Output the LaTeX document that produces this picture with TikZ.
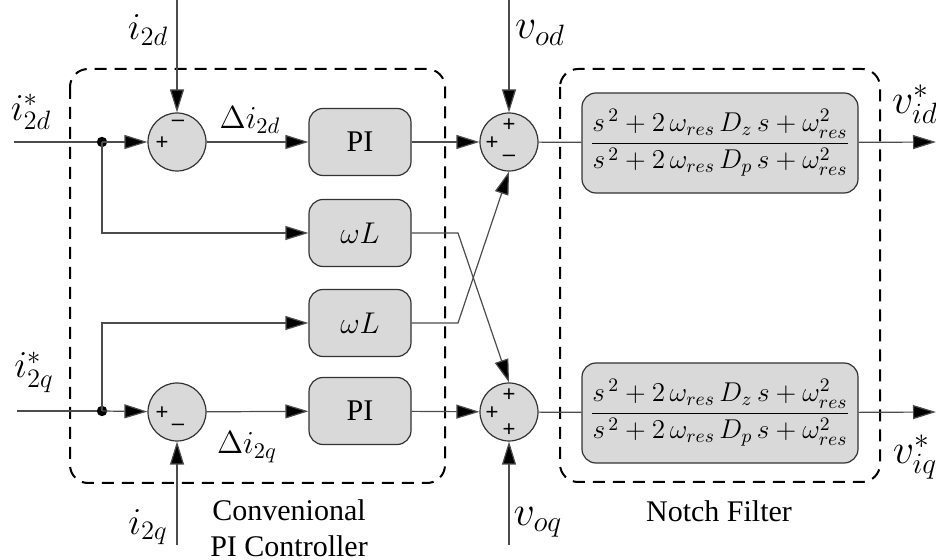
\RequirePackage{fix-cm}
\documentclass[tikz,border=0pt]{standalone}
\usepackage{fontspec}
\setmainfont{Liberation Serif}
\newfontfamily\signfont{Liberation Sans}
\usetikzlibrary{arrows.meta}
\begin{document}
\begin{tikzpicture}[x=0.5pt,y=-0.5pt,
  wire/.style={draw=black!70, line width=0.6pt},
  arr/.style={wire,-{Triangle[length=11.5pt,width=7pt,fill=black]}},
  blk/.style={draw=black!80, fill=black!15, rounded corners=7pt, line width=0.6pt, minimum width=51pt, minimum height=33.5pt, inner sep=0pt, font=\fontsize{15}{18}\selectfont},
  sumc/.style={circle, draw=black!80, fill=black!15, minimum size=29pt, inner sep=0pt, line width=0.6pt},
  nf/.style={blk, minimum width=138pt, minimum height=50pt, font=\fontsize{13.6}{16}\selectfont},
  grp/.style={draw=black, dash pattern=on 6pt off 4pt, line width=1pt, rounded corners=9pt},
  lbl/.style={font=\fontsize{19}{22}\selectfont, inner sep=0pt},
  lblv/.style={font=\fontsize{21}{22}\selectfont, inner sep=0pt},
  lbld/.style={font=\fontsize{16}{18}\selectfont, inner sep=0pt},
  captxt/.style={font=\fontsize{15}{15}\selectfont, anchor=base, inner sep=0pt},
  sg/.style={font=\signfont\fontsize{11}{11}\selectfont, inner sep=0pt}
]
\useasboundingbox (0,0) rectangle (936,560);

% groups
\draw[grp] (70,69) rectangle (445,483);
\draw[grp] (560,69) rectangle (880,482);

% blocks
\node[sumc] (s1) at (177,142) {};
\node[sumc] (s2) at (177,412) {};
\node[sumc] (s3) at (509,142) {};
\node[sumc] (s4) at (509,412) {};
\node[blk] (pi1) at (360,142) {PI};
\node[blk] (wl1) at (360,233) {$\omega L$};
\node[blk] (wl2) at (360,323) {$\omega L$};
\node[blk] (pi2) at (360,411) {PI};
\newcommand{\nfrac}{$\displaystyle\frac{s^{\,2}+2\,\omega_{res}\,D_{z}\,s+\omega^{2}_{res}}{s^{\,2}+2\,\omega_{res}\,D_{p}\,s+\omega^{2}_{res}}$}
\node[nf] (nf1) at (720,143) {\nfrac};
\node[nf] (nf2) at (720,413) {\nfrac};

% signs
\node[sg] (g1a) at ([shift={(1,-19)}]s1.center) {\textendash};
\node[sg] (g1b) at ([shift={(-15,1)}]s1.center) {+};
\node[sg] (g2a) at ([shift={(-15,1)}]s2.center) {+};
\node[sg] (g2b) at ([shift={(1,15)}]s2.center) {\textendash};
\node[sg] (g3a) at ([shift={(0,-17)}]s3.center) {+};
\node[sg] (g3b) at ([shift={(-17,1)}]s3.center) {+};
\node[sg] (g3c) at ([shift={(0,16)}]s3.center) {\textendash};
\node[sg] (g4a) at ([shift={(0,-17)}]s4.center) {+};
\node[sg] (g4b) at ([shift={(-17,1)}]s4.center) {+};
\node[sg] (g4c) at ([shift={(0,18)}]s4.center) {+};

% coordinates
\coordinate (in1) at (14,142);
\coordinate (in2) at (17,411);
\coordinate (d1) at (102,142);
\coordinate (d2) at (102,411);
\coordinate (t1) at (177,0);
\coordinate (b2) at (177,545);
\coordinate (t3) at (509,0);
\coordinate (b4) at (509,545);
\coordinate (k1) at (458,233);
\coordinate (k2) at (458,323);
\coordinate (o1) at (936,142);
\coordinate (o2) at (936,412);

% wires
\draw[wire] (in1) -- (d1);
\draw[wire] (in2) -- (d2);
\fill (d1) circle[radius=2.6pt];
\fill (d2) circle[radius=2.6pt];
\draw[arr] (d1) -- (s1);
\draw[arr] (d2) -- (s2);
\draw[arr] (d1) |- (wl1);
\draw[arr] (d2) |- (wl2);
\draw[arr] (t1) -- (s1);
\draw[arr] (b2) -- (s2);
\draw[arr] (s1) -- (pi1);
\draw[arr] (s2) -- (pi2);
\draw[arr] (pi1) -- (s3);
\draw[arr] (pi2) -- (s4);
\draw[arr] (t3) -- (s3);
\draw[arr] (b4) -- (s4);
\draw[arr] (wl1.east) -- (k1) -- (s4.north);
\draw[arr] (wl2.east) -- (k2) -- (s3.south);
\draw[wire] (s3) -- (nf1);
\draw[wire] (s4) -- (nf2);
\draw[arr] (nf1) -- (o1);
\draw[arr] (nf2) -- (o2);

% labels
\node[lbl] (li2d) at (148,30) {$i_{2d}$};
\node[lbl] (li2ds) at (31,112) {$i^{*}_{2d}$};
\node[lbl] (li2qs) at (34,372) {$i^{*}_{2q}$};
\node[lbl] (li2q) at (148,527) {$i_{2q}$};
\node[lbld] (ld1) at (250,120) {$\Delta i_{2d}$};
\node[lbld] (ld2) at (247,447) {$\Delta i_{2q}$};
\node[lblv] (lvod) at (540,33) {$v_{od}$};
\node[lblv] (lvoq) at (538,522) {$v_{oq}$};
\node[lblv] (lvid) at (915,104) {$v^{*}_{id}$};
\node[lblv] (lviq) at (915,457) {$v^{*}_{iq}$};
\node[captxt] (cpi1) at (289,520) {Convenional};
\node[captxt] (cpi2) at (289,556) {PI Controller};
\node[captxt] (cnf) at (719,522) {Notch Filter};
\end{tikzpicture}
\end{document}
